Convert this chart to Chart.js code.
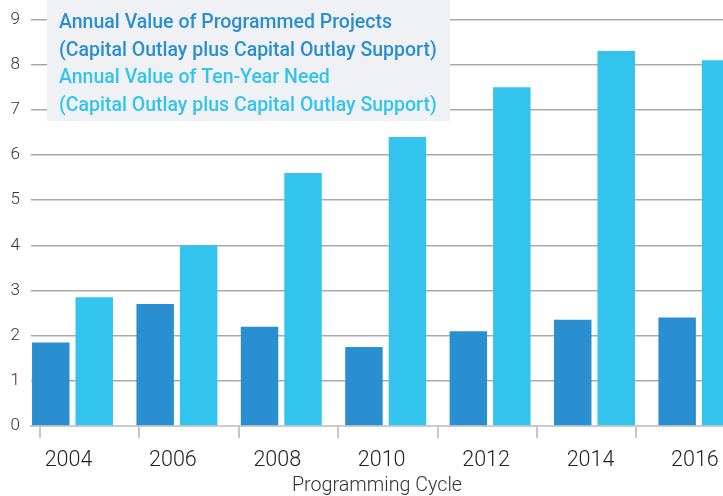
<!DOCTYPE html>
<html>
<head>
<meta charset="utf-8">
<script src="https://cdn.jsdelivr.net/npm/chart.js@4.4.0/dist/chart.umd.min.js"></script>
<style>
  html, body { margin: 0; padding: 0; background: #ffffff; }
  #wrap { width: 723px; height: 496px; position: relative; }
</style>
</head>
<body>
<div id="wrap"><canvas id="c" width="723" height="496"></canvas></div>
<script>
// ---- data ----
const categories = ['2004', '2006', '2008', '2010', '2012', '2014', '2016'];
const years = [2004, 2006, 2008, 2010, 2012, 2014, 2016];
const programmedValues = [1.85, 2.7, 2.2, 1.75, 2.1, 2.35, 2.4];
const tenYearNeedValues = [2.85, 4.0, 5.6, 6.4, 7.5, 8.3, 8.1];
const yTicks = [0, 1, 2, 3, 4, 5, 6, 7, 8, 9];
const programmedLabel = ['Annual Value of Programmed Projects', '(Capital Outlay plus Capital Outlay Support)'];
const needLabel = ['Annual Value of Ten-Year Need', '(Capital Outlay plus Capital Outlay Support)'];
const xTitle = 'Programming Cycle';

const DARK = '#2a8fd0';
const LIGHT = '#33c4ee';
const FONT = 'Roboto';

const legendBox = {
  id: 'legendBox',
  afterDraw(chart, args, o) {
    const ctx = chart.ctx;
    ctx.save();
    ctx.fillStyle = o.background;
    ctx.fillRect(o.x, o.y, o.width, o.height);
    ctx.font = o.font;
    ctx.textBaseline = 'alphabetic';
    ctx.textAlign = 'left';
    let y = o.firstBaseline;
    chart.data.datasets.forEach(ds => {
      ctx.fillStyle = ds.textColor;
      ds.legendLines.forEach(line => {
        ctx.fillText(line, o.textX, y);
        y += o.lineGap;
      });
    });
    ctx.restore();
  }
};

const noPad = s => { s.paddingLeft = 0; s.paddingRight = 0; };

new Chart(document.getElementById('c'), {
  type: 'bar',
  data: {
    datasets: [
      {
        label: programmedLabel.join(' '),
        legendLines: programmedLabel,
        textColor: DARK,
        xAxisID: 'x',
        yAxisID: 'y',
        data: years.map((yr, i) => ({ x: yr, y: programmedValues[i] })),
        backgroundColor: DARK,
        borderWidth: 0,
        categoryPercentage: 0.833,
        barPercentage: 0.862
      },
      {
        label: needLabel.join(' '),
        legendLines: needLabel,
        textColor: LIGHT,
        xAxisID: 'x',
        yAxisID: 'y',
        data: years.map((yr, i) => ({ x: yr, y: tenYearNeedValues[i] })),
        backgroundColor: LIGHT,
        borderWidth: 0,
        categoryPercentage: 0.833,
        barPercentage: 0.862
      }
    ]
  },
  options: {
    responsive: false,
    devicePixelRatio: 1,
    animation: false,
    layout: { padding: { top: 0, left: 0, right: 0, bottom: 0 } },
    plugins: {
      legend: { display: false },
      tooltip: { enabled: false },
      legendBox: {
        background: '#eff1f4',
        x: 47, y: 0, width: 403, height: 121,
        textX: 59,
        firstBaseline: 28,
        lineGap: 27.7,
        font: '500 19.5px Roboto'
      }
    },
    scales: {
      x: {
        type: 'linear',
        position: 'bottom',
        weight: 1,
        offset: false,
        min: 2003.205,
        max: 2016.462,
        afterBuildTicks: s => { s.ticks = years.map(v => ({ value: v })); },
        ticks: {
          autoSkip: false,
          maxRotation: 0,
          labelOffset: -4,
          padding: 2,
          color: '#222',
          font: { family: FONT, size: 21.5, weight: '300' },
          callback: (v, i) => categories[i]
        },
        grid: { display: false, offset: false },
        border: { display: false },
        title: {
          display: true,
          text: xTitle,
          color: '#333',
          font: { family: FONT, size: 19.7, weight: '300', lineHeight: 1.0 },
          padding: { top: 0, bottom: 0 }
        },
        afterFit: s => { s.height = 58; noPad(s); }
      },
      xt: {
        type: 'linear',
        axis: 'x',
        position: 'bottom',
        weight: 0,
        offset: false,
        min: -0.0905,
        max: 6.871,
        afterBuildTicks: s => { s.ticks = categories.map((c, i) => ({ value: i })); },
        ticks: { display: false },
        grid: { drawOnChartArea: false, drawTicks: true, tickLength: 12, color: '#c6c6c6', lineWidth: 2, offset: false },
        border: { display: true, color: '#cbcbcb', width: 2 },
        afterFit: s => { s.height = 12; noPad(s); }
      },
      y: {
        type: 'linear',
        min: 0,
        max: 9,
        afterBuildTicks: s => { s.ticks = yTicks.map(v => ({ value: v })); },
        ticks: {
          padding: 11,
          color: '#333',
          font: { family: FONT, size: 17, weight: '300', lineHeight: 1.0 }
        },
        grid: {
          drawTicks: false,
          lineWidth: 1.5,
          color: c => (c.tick && c.tick.value === 0) ? 'rgba(0,0,0,0)' : '#a9a9a9'
        },
        border: { display: false },
        afterFit: s => { s.width = 31; }
      }
    }
  },
  plugins: [legendBox]
});
</script>
</body>
</html>
